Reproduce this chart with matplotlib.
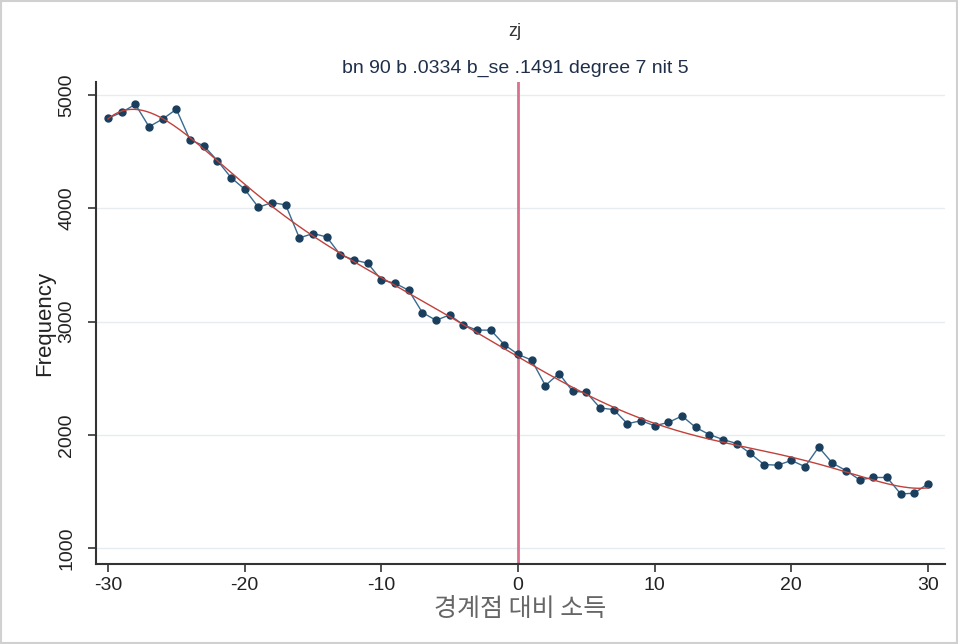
import numpy as np
import matplotlib
matplotlib.use("Agg")
import matplotlib.pyplot as plt

plt.rcParams['font.family'] = ['Liberation Sans', 'Noto Sans CJK KR', 'DejaVu Sans']

x_vals = list(range(-30, 31))
freq = [4795, 4847, 4918, 4720, 4788, 4874, 4603, 4553, 4421, 4271,
        4168, 4009, 4050, 4030, 3738, 3777, 3747, 3588, 3544, 3515,
        3367, 3338, 3276, 3079, 3011, 3058, 2970, 2924, 2924, 2796,
        2710, 2659, 2435, 2541, 2384, 2375, 2237, 2222, 2098, 2124,
        2080, 2109, 2166, 2065, 2002, 1958, 1923, 1835, 1737, 1732,
        1773, 1719, 1891, 1750, 1684, 1602, 1623, 1623, 1478, 1484, 1569]
x_ticks = [-30, -20, -10, 0, 10, 20, 30]
y_ticks = [1000, 2000, 3000, 4000, 5000]
title = "zj"
subtitle = "bn 90 b .0334 b_se .1491 degree 7 nit 5"
xlabel = "경계점 대비 소득"
ylabel = "Frequency"
cutoff = 0
fit_degree = 7

x = np.array(x_vals, dtype=float)
y = np.array(freq, dtype=float)
coef = np.polyfit(x, y, fit_degree)
xf = np.linspace(x.min(), x.max(), 400)
yf = np.polyval(coef, xf)

fig = plt.figure(figsize=(9.58, 6.44), dpi=100)
fig.patch.set_facecolor('white')
ax = fig.add_axes([0.1002, 0.1242, 0.8862, 0.7485])

ax.set_xlim(-30.88, 31.24)
ax.set_ylim(859, 5115)

for yt in y_ticks:
    ax.axhline(yt, color='#e6ecef', lw=1.0, zorder=0)

ax.axvline(cutoff, color='#d9728c', lw=2.0, zorder=2)
ax.plot(x, y, color='#3a6a90', lw=1.0, zorder=3)
ax.plot(x, y, 'o', color='#1a3f5e', ms=5, zorder=4)
ax.plot(xf, yf, color='#c0413a', lw=1.0, zorder=5)

ax.set_xticks(x_ticks)
ax.set_xticklabels([str(t) for t in x_ticks])
ax.set_yticks(y_ticks)
ax.set_yticklabels([str(t) for t in y_ticks], rotation=90, va='center')

for s in ['top', 'right']:
    ax.spines[s].set_visible(False)
for s in ['left', 'bottom']:
    ax.spines[s].set_color('#333333')
    ax.spines[s].set_linewidth(1.5)
ax.tick_params(axis='both', direction='out', length=6, width=1.2, color='#333333',
               labelsize=14, labelcolor='#222222')
ax.tick_params(axis='x', pad=3)
ax.tick_params(axis='y', pad=9)

ax.set_ylabel(ylabel, fontsize=16, color='#222222', labelpad=2)
ax.set_xlabel(xlabel, fontsize=18, color='#666666', labelpad=2,
              family=['Noto Sans CJK KR', 'DejaVu Sans'])

fig.text(515 / 958, 1 - 32 / 644, title, ha='center', va='center', fontsize=13, color='#333333')
fig.text(515 / 958, 1 - 68 / 644, subtitle, ha='center', va='center', fontsize=14, color='#1f2f4a')

border = plt.Rectangle((0.001, 0.001), 0.998, 0.997, transform=fig.transFigure,
                       fill=False, edgecolor='#d0d0d0', lw=1.5)
fig.patches.append(border)

fig.savefig('out.png', dpi=100)
